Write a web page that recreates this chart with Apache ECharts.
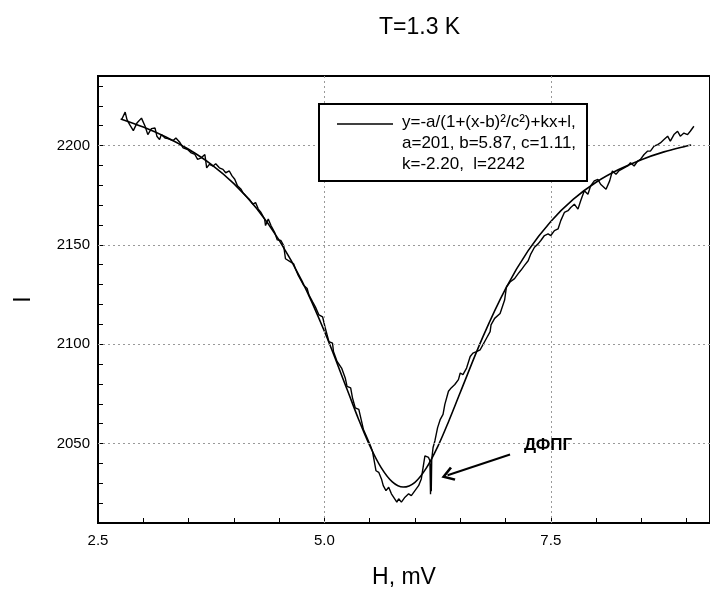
<!DOCTYPE html>
<html><head><meta charset="utf-8">
<script src="https://cdn.jsdelivr.net/npm/echarts@6/dist/echarts.min.js"></script>
<style>html,body{margin:0;padding:0;background:#fff}#c{width:710px;height:594px}</style>
</head><body><div id="c"></div>
<script>
// Measured signal I(H)
const hX = [2.76,2.80,2.82,2.85,2.89,2.93,2.98,3.02,3.05,3.09,3.13,3.15,3.18,3.20,3.24,3.27,3.33,3.36,3.40,3.44,3.49,3.53,3.57,3.60,3.64,3.68,3.70,3.73,3.77,3.80,3.84,3.88,3.91,3.95,3.98,4.01,4.04,4.08,4.10,4.13,4.17,4.21,4.24,4.27,4.30,4.34,4.35,4.38,4.41,4.45,4.48,4.52,4.55,4.57,4.63,4.66,4.68,4.71,4.74,4.77,4.81,4.83,4.87,4.90,4.94,4.98,5.01,5.05,5.09,5.10,5.14,5.19,5.23,5.25,5.29,5.31,5.34,5.38,5.41,5.43,5.47,5.51,5.53,5.55,5.57,5.60,5.63,5.65,5.68,5.71,5.74,5.76,5.80,5.82,5.85,5.89,5.93,5.96,6.00,6.04,6.07,6.09,6.11,6.13,6.15,6.165,6.172,6.176,6.180,6.185,6.20,6.22,6.25,6.28,6.31,6.33,6.37,6.40,6.44,6.48,6.50,6.53,6.57,6.61,6.64,6.68,6.72,6.75,6.79,6.83,6.84,6.88,6.94,6.99,7.01,7.05,7.10,7.14,7.17,7.21,7.25,7.28,7.32,7.36,7.39,7.43,7.47,7.50,7.54,7.58,7.61,7.65,7.69,7.72,7.76,7.80,7.83,7.87,7.91,7.94,7.98,8.02,8.05,8.11,8.15,8.18,8.22,8.25,8.31,8.35,8.38,8.42,8.46,8.49,8.53,8.57,8.60,8.64,8.68,8.71,8.75,8.79,8.82,8.86,8.90,8.93,8.97,9.01,9.04,9.08];
const hI = [2213,2216.8,2213,2210.5,2207.5,2211.3,2213.8,2209.7,2205.5,2208.5,2208.8,2204.7,2203,2205.5,2203.8,2203.5,2202.5,2203.8,2201.8,2198.8,2198,2196.3,2195.5,2193,2193.8,2195.5,2188.8,2190.5,2189.7,2190.8,2188.8,2188,2186.3,2187.2,2184.7,2183,2179.7,2178,2176.3,2174.7,2173,2170.5,2171.3,2168,2166.3,2163,2159.7,2163,2159.7,2156.3,2152.5,2152.2,2149.7,2143,2141.3,2140.5,2138,2134.7,2132.2,2129.7,2128,2124.7,2121.3,2118.8,2114.7,2113.8,2108,2101.3,2100.5,2096.3,2091.3,2088,2083,2078.8,2078,2073,2068,2067.2,2061.3,2057.2,2053,2048.8,2046.3,2041.3,2036.3,2035.5,2032.2,2028.8,2026.3,2028,2024.7,2023.8,2020.5,2022.2,2020.5,2023,2024.7,2023.8,2026.3,2028.8,2032.2,2038,2043.8,2044.7,2043,2041.3,2024.5,2040,2026,2042,2048,2051.3,2058,2062.2,2064.7,2069.7,2076.3,2078,2079.7,2082.2,2085.5,2084.7,2088,2093.8,2095.5,2096.3,2097.2,2099.7,2103,2106.3,2109.7,2113,2115.5,2122.2,2128.8,2131.3,2133,2135.5,2137.2,2139.7,2142,2145.5,2148.8,2150.5,2152.2,2154.7,2155.5,2154.7,2157.2,2158,2162.2,2166.3,2167.2,2168.8,2170.5,2168,2172.2,2177.2,2175.5,2179.7,2182.2,2183,2180.5,2178,2182.2,2187.2,2185.5,2187.2,2188.8,2189.7,2191.3,2189.7,2192.2,2193,2195.5,2197.2,2197.2,2199.7,2200.5,2201.3,2203,2204.7,2202.2,2205.5,2207.2,2204.7,2206.3,2205.5,2207.2,2209.7];
// Fitted curve
const fitH = [2.75,3.0,3.25,3.5,3.75,4.0,4.25,4.5,4.75,5.0,5.25,5.375,5.5,5.625,5.75,5.87,6.0,6.125,6.25,6.375,6.5,6.75,7.0,7.25,7.5,7.75,8.0,8.25,8.5,8.75,9.0,9.05];
const fitI = [2213.4,2209.3,2204.3,2198.1,2190.5,2180.8,2168.4,2152.4,2132.0,2106.5,2077.3,2062.5,2049.0,2038.0,2030.7,2028.1,2030.5,2037.6,2048.3,2061.5,2075.7,2103.7,2127.9,2147.1,2161.8,2173.0,2181.5,2187.9,2192.9,2196.8,2199.8,2200.3];
// Axes / labels
const xLabels = [2.5, 5.0, 7.5];
const yLabels = [2050, 2100, 2150, 2200];
const xGridLines = [5.0, 7.5];
const yGridLines = [2050, 2100, 2150, 2200];
const titleText = 'T=1.3 K';
const xName = 'H, mV';
const yName = 'I';
const legendLines = ['y=-a/(1+(x-b)\u00B2/c\u00B2)+kx+l,', 'a=201, b=5.87, c=1.11,', 'k=-2.20,  l=2242'];
const noteText = 'ДФПГ';
const noteAt = [7.47, 2049];
const arrowFrom = [7.05, 2044.5];
const arrowTo = [6.36, 2034];

const FONT = 'Arial, "Liberation Sans", sans-serif';
const near = (v, list) => list.some(t => Math.abs(v - t) < 1e-6);

const chart = echarts.init(document.getElementById('c'), null, {renderer: 'canvas'});
chart.setOption({
  animation: false,
  backgroundColor: '#fff',
  textStyle: {fontFamily: FONT},
  title: {text: titleText, left: 374, top: 11, textStyle: {fontSize: 23, fontWeight: 'normal', color: '#000', fontFamily: FONT}},
  grid: {left: 98, top: 76, right: -3, bottom: 68, show: true, borderColor: '#000', borderWidth: 2, backgroundColor: 'transparent'},
  xAxis: {
    type: 'value', min: 2.5, max: 9.258, interval: 0.5,
    name: xName, nameLocation: 'middle', nameGap: 43,
    nameTextStyle: {fontSize: 23, color: '#000', fontFamily: FONT},
    axisLine: {lineStyle: {color: '#000', width: 2}},
    axisTick: {inside: true, length: 5, lineStyle: {color: '#000', width: 1}},
    axisLabel: {color: '#000', fontSize: 15, margin: 10, fontFamily: FONT, showMaxLabel: false,
      formatter: v => near(v, xLabels) ? v.toFixed(1) : ''},
    splitLine: {show: false}
  },
  yAxis: {
    type: 'value', min: 2010, max: 2235, interval: 10,
    name: yName, nameLocation: 'middle', nameGap: 63, nameRotate: 90,
    nameTextStyle: {fontSize: 23, color: '#000', fontFamily: FONT},
    axisLine: {lineStyle: {color: '#000', width: 2}},
    axisTick: {inside: true, length: 5, lineStyle: {color: '#000', width: 1}},
    axisLabel: {color: '#000', fontSize: 15, margin: 8, fontFamily: FONT, showMaxLabel: false,
      formatter: v => near(v, yLabels) ? String(v) : ''},
    splitLine: {show: false}
  },
  graphic: [
    {type: 'rect', shape: {x: 319, y: 104, width: 268, height: 77}, style: {fill: '#fff', stroke: '#000', lineWidth: 2}, z: 100},
    {type: 'line', shape: {x1: 337, y1: 124, x2: 393, y2: 124}, style: {stroke: '#000', lineWidth: 1.6}, z: 101},
    {type: 'text', x: 402, y: 112, style: {text: legendLines.join('\n'), font: '17px ' + FONT, lineHeight: 21, fill: '#000'}, z: 101}
  ],
  series: [
    {
      type: 'line', name: 'fit', smooth: 0.35, showSymbol: false, symbol: 'none',
      data: fitH.map((x, i) => [x, fitI[i]]),
      lineStyle: {color: '#000', width: 1.6}, z: 3,
      markLine: {
        silent: true, symbol: 'none', label: {show: false},
        lineStyle: {color: '#999', width: 1, type: [2, 3]},
        data: xGridLines.map(v => ({xAxis: v})).concat(yGridLines.map(v => ({yAxis: v})))
      }
    },
    {
      type: 'line', name: 'data', showSymbol: false, symbol: 'none',
      data: hX.map((x, i) => [x, hI[i]]),
      lineStyle: {color: '#000', width: 1.4}, z: 4,
      markLine: {
        silent: true, symbol: ['none', 'path://M5,0 L10,9 L8.6,10.2 L5,3.6 L1.4,10.2 L0,9 Z'], symbolSize: [15, 13],
        label: {show: false},
        lineStyle: {color: '#000', width: 2, type: 'solid'},
        data: [[{coord: arrowFrom}, {coord: arrowTo}]]
      },
      markPoint: {
        silent: true, symbol: 'circle', symbolSize: 0,
        label: {show: true, formatter: noteText, color: '#000', fontSize: 17, fontWeight: 'bold', fontFamily: FONT},
        data: [{coord: noteAt}]
      }
    }
  ]
});
</script></body></html>
